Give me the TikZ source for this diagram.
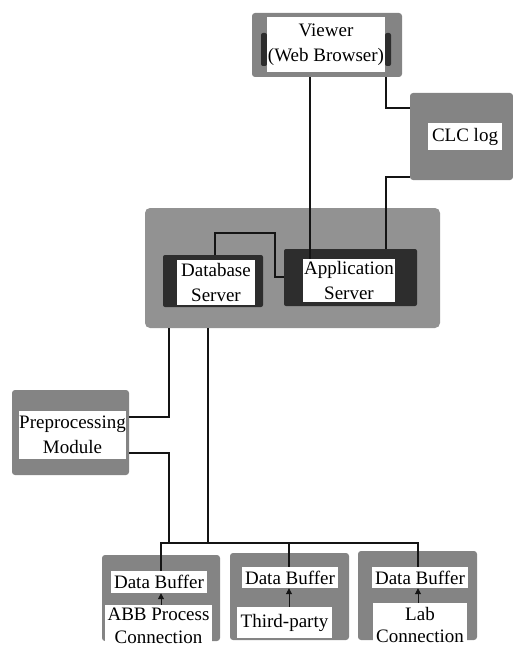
\documentclass[tikz,border=0pt]{standalone}
\usepackage{fontspec}
\setmainfont{Liberation Serif}
\usetikzlibrary{arrows.meta}
\definecolor{boxgray}{RGB}{132,132,132}
\definecolor{contgray}{RGB}{146,146,146}
\definecolor{darkframe}{RGB}{45,45,45}
\definecolor{wire}{RGB}{20,20,20}
\begin{document}
\begin{tikzpicture}[x=1pt,y=-1pt,
  graybox/.style={fill=boxgray, rounded corners=3pt, inner sep=0pt},
  darkbox/.style={fill=darkframe, rounded corners=2pt, inner sep=0pt},
  lbl/.style={fill=white, inner sep=0pt, align=center, font=\fontsize{19}{25}\selectfont},
  lowlbl/.style={lbl, font=\fontsize{19}{22.5}\selectfont},
  wirestyle/.style={draw=wire, line width=2.6pt},
  tipline/.style={draw=wire, line width=1pt, -{Triangle[length=6pt,width=6pt]}}]
\useasboundingbox (0,0) rectangle (513,647);
\clip (0,0) rectangle (513,647);

% Viewer
\node[graybox, minimum width=150pt, minimum height=64pt] (viewerbox) at (327,45) {};
\node[darkbox, minimum width=6pt, minimum height=33pt] (vbarl) at (264,49.5) {};
\node[darkbox, minimum width=6pt, minimum height=33pt] (vbarr) at (388,49.5) {};
\node[lbl, minimum width=118pt, minimum height=55pt] (viewer) at (326,44.5) {Viewer\\(Web Browser)};

% CLC log
\node[graybox, minimum width=103pt, minimum height=87pt] (clcbox) at (461.5,136.5) {};
\node[lbl, minimum width=74pt, minimum height=27pt] (clc) at (465,136.5) {CLC log};

% Container with servers
\node[fill=contgray, rounded corners=5pt, inner sep=0pt, minimum width=295pt, minimum height=120pt] (container) at (292.5,268) {};
\node[darkbox, minimum width=100pt, minimum height=52pt] (dbframe) at (213,281) {};
\node[lbl, minimum width=78pt, minimum height=45pt] (db) at (216,282.5) {Database\\Server};
\node[darkbox, minimum width=133pt, minimum height=57pt] (appframe) at (350.5,277.5) {};
\node[lbl, minimum width=92pt, minimum height=43pt] (app) at (349,280.5) {Application\\Server};

% Preprocessing
\node[graybox, minimum width=117pt, minimum height=85pt] (prebox) at (70.5,432.5) {};
\node[lbl, minimum width=107pt, minimum height=48pt] (pre) at (72.5,435) {Preprocessing\\Module};

% Bottom boxes
\node[graybox, minimum width=118pt, minimum height=86pt] (b1box) at (161,598) {};
\node[lbl, minimum width=96pt, minimum height=22pt] (buf1) at (159,582) {Data Buffer};
\node[lowlbl, minimum width=107pt, minimum height=42pt] (src1) at (158.5,626) {ABB Process\\Connection};

\node[graybox, minimum width=119pt, minimum height=87pt] (b2box) at (289.5,596.5) {};
\node[lbl, minimum width=96pt, minimum height=21pt] (buf2) at (290,577.5) {Data Buffer};
\node[lbl, minimum width=95pt, minimum height=31pt] (src2) at (284.5,622.5) {Third-party};

\node[graybox, minimum width=119pt, minimum height=89pt] (b3box) at (417.5,595.5) {};
\node[lbl, minimum width=96pt, minimum height=21pt] (buf3) at (420,577.5) {Data Buffer};
\node[lowlbl, minimum width=94pt, minimum height=44pt] (src3) at (420,625) {Lab\\Connection};

% helper coordinates
\coordinate (xv) at (310,0);
\coordinate (xc) at (386,0);
\coordinate (yc1) at (0,108);
\coordinate (yc2) at (0,177);
\coordinate (xd) at (215,0);
\coordinate (k1) at (275,233);
\coordinate (yf) at (0,277);
\coordinate (xl) at (169,0);
\coordinate (xr) at (208,0);
\coordinate (yp1) at (0,417);
\coordinate (yp2) at (0,453);
\coordinate (busy) at (0,543);
\coordinate (d1) at (161,0);
\coordinate (d2) at (289,0);
\coordinate (d3) at (418,0);

% connectors
\draw[wirestyle] (viewerbox.south -| xv) -- (app.north -| xv);
\draw[wirestyle] (viewerbox.south -| xc) |- (clcbox.west |- yc1);
\draw[wirestyle] (clcbox.west |- yc2) -| (appframe.north -| xc);
\draw[wirestyle] (dbframe.north -| xd) |- (k1) |- (appframe.west |- yf);
\draw[wirestyle] (container.south -| xl) |- (prebox.east |- yp1);
\draw[wirestyle] (prebox.east |- yp2) -| (xl |- busy);
\draw[wirestyle] (container.south -| xr) -- (xr |- busy);
\draw[wirestyle] (buf1.north -| d1) -- (d1 |- busy) -- (d3 |- busy) -- (buf3.north -| d3);
\draw[wirestyle] (buf2.north -| d2) -- (d2 |- busy);

% small arrows between source and buffer
\draw[tipline] (src1.north -| d1) -- (buf1.south -| d1);
\draw[tipline] (src2.north -| d2) -- (buf2.south -| d2);
\draw[tipline] (src3.north -| d3) -- (buf3.south -| d3);
\end{tikzpicture}
\end{document}
